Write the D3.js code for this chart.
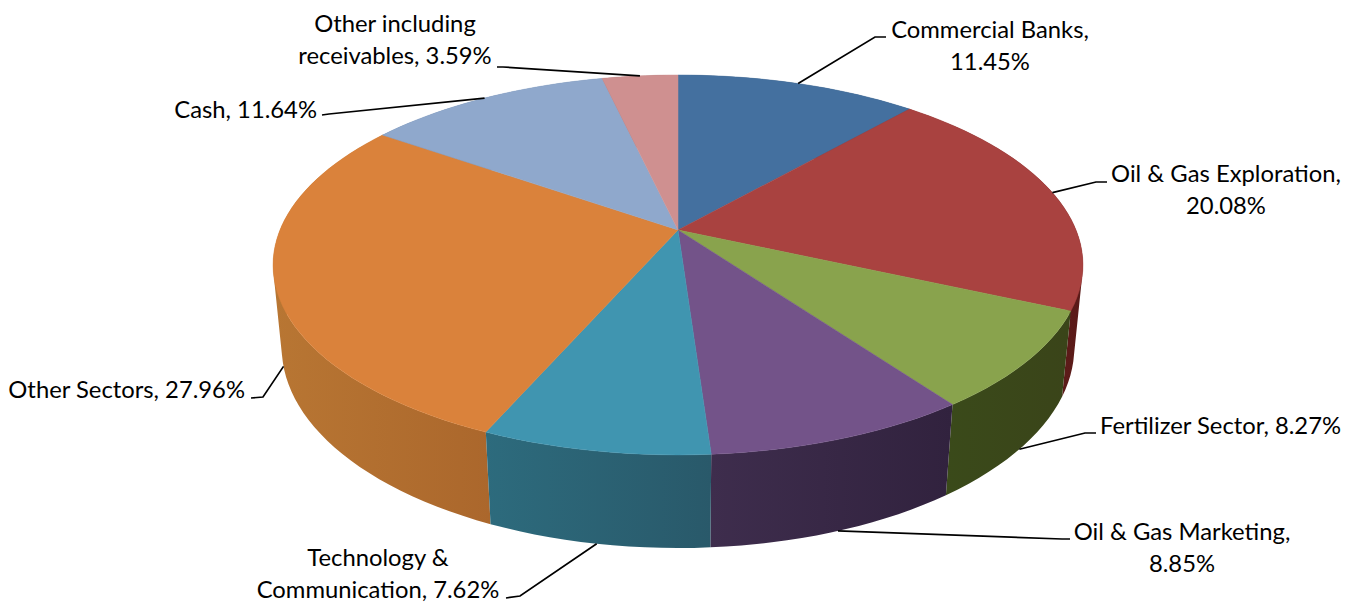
<!DOCTYPE html>
<html>
<head>
<meta charset="utf-8">
<script src="https://cdn.jsdelivr.net/npm/d3@7"></script>
<style>
  html, body { margin: 0; padding: 0; background: #fff; }
  svg { display: block; }
  text { font-family: Lato, "Open Sans", sans-serif; fill: #000; }
</style>
</head>
<body>
<svg id="chart" width="1357" height="603"></svg>
<script>
// Sector allocation, in percent, clockwise from twelve o'clock.
const sectors = ["Commercial Banks", "Oil & Gas Exploration", "Fertilizer Sector", "Oil & Gas Marketing",
  "Technology & Communication", "Other Sectors", "Cash", "Other including receivables"];
const shares = [11.45, 20.08, 8.27, 8.85, 7.62, 27.96, 11.64, 3.59];

const topColors = ["#44709f", "#a94240", "#89a34d", "#735389", "#4095b0", "#da823b", "#8fa8cc", "#cf9090"];
const wallLeft = ["#2c4a6c", "#6e2422", "#3a4a1a", "#3e2d4d", "#2d6b7d", "#b87633", "#5f7596", "#8f5d5c"];
const wallRight = ["#2c4a6c", "#5a1a18", "#3a4419", "#31223e", "#29596a", "#ab672c", "#5f7596", "#8f5d5c"];

// Label text lines, in the same order as the sectors.
const labelLines = [
  ["Commercial Banks,", "11.45%"],
  ["Oil & Gas Exploration,", "20.08%"],
  ["Fertilizer Sector, 8.27%"],
  ["Oil & Gas Marketing,", "8.85%"],
  ["Technology &", "Communication, 7.62%"],
  ["Other Sectors, 27.96%"],
  ["Cash, 11.64%"],
  ["Other including", "receivables, 3.59%"]
];

// Label layout: anchor x, first baseline, text anchor, leader elbow, leader end, leader attachment level.
const labelLayout = [
  { x: 990, y: 38, anchor: "middle", elbow: [875, 37], end: [886, 37], level: 0 },
  { x: 1226, y: 182, anchor: "middle", elbow: [1096, 182], end: [1107, 182], level: 0 },
  { x: 1100, y: 434, anchor: "start", elbow: [1085, 433], end: [1096, 433], level: 1 },
  { x: 1182, y: 540, anchor: "middle", elbow: [1062, 539], end: [1070, 539], level: 1 },
  { x: 378, y: 566, anchor: "middle", elbow: [520, 596], end: [506, 598], level: 1 },
  { x: 245, y: 398, anchor: "end", elbow: [263, 397], end: [251, 398], level: 1 },
  { x: 317, y: 118, anchor: "end", elbow: [329, 114], end: [322, 115], level: 0 },
  { x: 395, y: 32, anchor: "middle", elbow: [503, 67], end: [497, 67], level: 0 }
];

const lineHeight = 31.5;

// Perspective projection of the cylinder: level 0 is the top face, level 1 the bottom rim.
const cx = 678, cy = 230;
const unitX = 398, unitY = 183.5, tilt = 0.184, rimRecede = 0.021, rimDrop = 82.7;
function project(angle, radius, level) {
  const u = radius * Math.sin(angle);
  const v = -radius * Math.cos(angle);
  const w = 1 - tilt * v + rimRecede * level;
  return [cx + unitX * u / w, cy + (unitY * v + rimDrop * level) / w];
}

const pie = d3.pie().sort(null).value(d => d)(shares);
const svg = d3.select("#chart");
const outline = d3.line();
const STEP = Math.PI / 90;

function arcAngles(a0, a1) {
  const n = Math.max(1, Math.ceil((a1 - a0) / STEP));
  return d3.range(n + 1).map(i => a0 + (a1 - a0) * i / n);
}

// One wall per slice: a union of quads wound the same way, so that the
// stretch where the rim turns back on itself still fills solidly.
const walls = pie.map((slice, i) => {
  const quads = d3.pairs(arcAngles(slice.startAngle, slice.endAngle)).map(([a, b]) => {
    const quad = [project(a, 1, 0), project(b, 1, 0), project(b, 1, 1), project(a, 1, 1)];
    return d3.polygonArea(quad) < 0 ? quad.reverse() : quad;
  });
  const xs = quads.flat().map(p => p[0]);
  return { i, quads, x0: d3.min(xs), x1: d3.max(xs),
    depth: -Math.cos((slice.startAngle + slice.endAngle) / 2) };
}).sort((p, q) => p.depth - q.depth);

const defs = svg.append("defs");
const grads = defs.selectAll("linearGradient").data(walls).join("linearGradient")
  .attr("id", w => "wall-" + w.i)
  .attr("gradientUnits", "userSpaceOnUse")
  .attr("x1", w => w.x0).attr("x2", w => w.x1)
  .attr("y1", 0).attr("y2", 0);
grads.append("stop").attr("offset", 0).attr("stop-color", w => wallLeft[w.i]);
grads.append("stop").attr("offset", 1).attr("stop-color", w => wallRight[w.i]);

svg.append("g").selectAll("path").data(walls).join("path")
  .attr("d", w => w.quads.map(q => outline(q) + "Z").join(""))
  .attr("fill", w => `url(#wall-${w.i})`)
  .attr("fill-rule", "nonzero");

// Top face wedges.
svg.append("g").selectAll("path").data(pie).join("path")
  .attr("d", s => outline([[cx, cy], ...arcAngles(s.startAngle, s.endAngle).map(a => project(a, 1, 0))]) + "Z")
  .attr("fill", (s, i) => topColors[i])
  .attr("stroke", (s, i) => topColors[i])
  .attr("stroke-width", 0.5);

// Leader lines from each wedge's middle angle out to its label.
svg.append("g").selectAll("path").data(pie).join("path")
  .attr("d", (s, i) => {
    const l = labelLayout[i];
    const mid = (s.startAngle + s.endAngle) / 2;
    return outline([project(mid, 1, l.level), l.elbow, l.end]);
  })
  .attr("fill", "none")
  .attr("stroke", "#000")
  .attr("stroke-width", 1.7);

// Labels.
const labels = svg.append("g").selectAll("text").data(labelLines).join("text")
  .attr("font-size", 23.8)
  .attr("text-anchor", (d, i) => labelLayout[i].anchor);
labels.each(function (lines, i) {
  d3.select(this).selectAll("tspan").data(lines).join("tspan")
    .attr("x", labelLayout[i].x)
    .attr("y", (t, k) => labelLayout[i].y + k * lineHeight)
    .text(t => t);
});
</script>
</body>
</html>
